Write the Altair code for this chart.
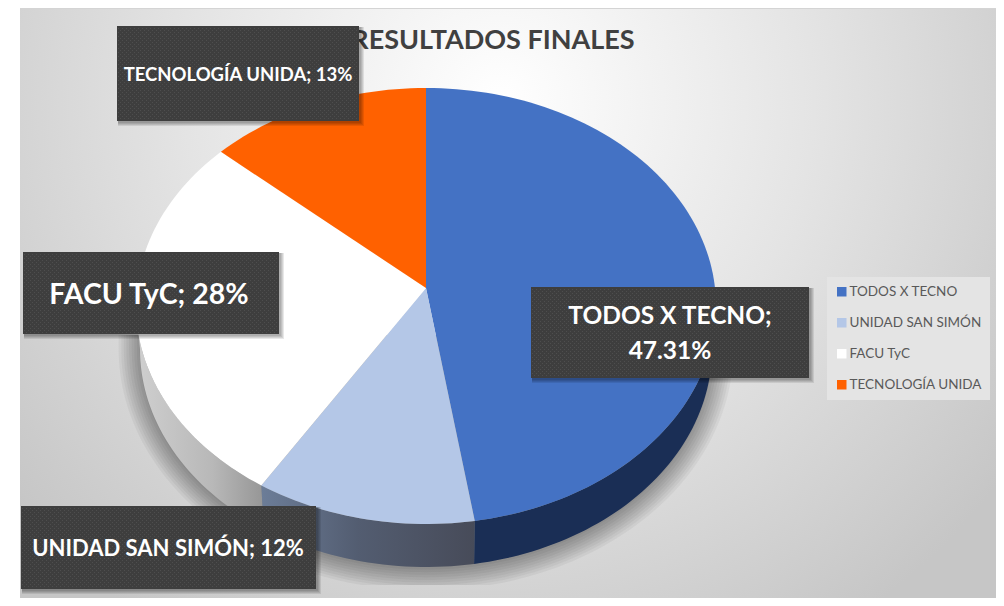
import math
import altair as alt
import pandas as pd

categories = ["TODOS X TECNO", "UNIDAD SAN SIMÓN", "FACU TyC", "TECNOLOGÍA UNIDA"]
values = [47.31, 12.3, 27.89, 12.5]
colors = ["#4472C4", "#B4C7E7", "#FFFFFF", "#FF6100"]
labels = ["TODOS X TECNO;\n47.31%", "UNIDAD SAN SIMÓN; 12%", "FACU TyC; 28%", "TECNOLOGÍA UNIDA; 13%"]
title_text = "RESULTADOS FINALES"

W, H = 988, 590
OX, OY = 8, 8  # page margin
PX, PY = 426, 288  # pie pivot
CX, CY, RX, RY = 426, 306, 290, 218
DEPTH = 43
FONT = "Lato"

total = sum(values)
cuts = [0]
for v in values:
    cuts.append(cuts[-1] + v / total * 360)


def pt(t, cy=CY, rx=RX, ry=RY):
    a = math.radians(t)
    return [CX + rx * math.sin(a) - OX, cy - ry * math.cos(a) - OY]


def arc(t0, t1, **kw):
    n = max(2, int(abs(t1 - t0) / 1.5))
    return [pt(t0 + (t1 - t0) * i / n, **kw) for i in range(n + 1)]


def feature(ring, name=""):
    ring = ring + [ring[0]]
    return {"type": "Feature", "properties": {"name": name},
            "geometry": {"type": "Polygon", "coordinates": [ring]}}


def geo(features, **mark):
    return alt.Chart(alt.Data(values=features)).mark_geoshape(stroke=None, **mark).project(
        type="identity", scale=1, translate=[0, 0])


def rect(x0, y0, x1, y1, **mark):
    return alt.Chart(pd.DataFrame({"a": [0]})).mark_rect(**mark).encode(
        x=alt.value(x0 - OX), x2=alt.value(x1 - OX), y=alt.value(y0 - OY), y2=alt.value(y1 - OY))


def text(s, x, y, size, color="#FFFFFF", **mark):
    return alt.Chart(pd.DataFrame({"label": [s]})).mark_text(
        font=FONT, fontWeight="bold", fontSize=size, color=color, align="center",
        baseline="middle", lineBreak="\n", **mark).encode(
        x=alt.value(x - OX), y=alt.value(y - OY), text="label:N")


# background
bg = rect(20, -100, 1002, 882, clip=True, fill=alt.RadialGradient(
    gradient="radial", x1=0.489, y1=0.204, x2=0.489, y2=0.204, r1=0, r2=0.64,
    stops=[alt.GradientStop(offset=0, color="#FFFFFF"),
           alt.GradientStop(offset=0.5, color="#E4E4E4"),
           alt.GradientStop(offset=1, color="#C6C6C6")]))
top_line = rect(20, 8, 1002, 9, fill="#D4D4D4")

# soft shadow under the pie
shadow_layers = []
for i in range(10):
    rx = 284 + i * 2.6
    ry = 218 + i * 2.6
    pts = arc(90, 270, cy=CY + DEPTH, rx=rx, ry=ry)
    ring = [[x, min(y, 585 - OY)] for x, y in pts]
    ring = [[CX + rx - OX, 335 - OY]] + ring + [[CX - rx - OX, 335 - OY]]
    shadow_layers.append(geo([feature(ring)], fill="#000000", fillOpacity=0.042))


# pie walls
def wall(t0, t1):
    return feature(arc(t0, t1) + arc(t1, t0, cy=CY + DEPTH, rx=286))


wall_blue = geo([wall(90, cuts[1])], fill="#1A2E55")
wall_light = geo([wall(cuts[1], cuts[2])], fill=alt.LinearGradient(
    gradient="linear", x1=0, y1=0, x2=1, y2=0,
    stops=[alt.GradientStop(offset=0, color="#6C7D98"),
           alt.GradientStop(offset=0.45, color="#535D71"),
           alt.GradientStop(offset=1, color="#474B59")]))
wall_white = geo([wall(cuts[2], 270)], fill=alt.LinearGradient(
    gradient="linear", x1=0, y1=0, x2=1, y2=0,
    stops=[alt.GradientStop(offset=0, color="#CFCFCF"),
           alt.GradientStop(offset=0.6, color="#B8B8B8"),
           alt.GradientStop(offset=1, color="#969696")]))

# pie faces (drawn through the colour scale, which also gives the legend)
faces = []
for i, name in enumerate(categories):
    faces.append(feature([[PX - OX, PY - OY]] + arc(cuts[i], cuts[i + 1]), name))

pie = geo(faces).encode(
    color=alt.Color("properties.name:N",
                    scale=alt.Scale(domain=categories, range=colors),
                    legend=alt.Legend(
                        title=None, orient="none", legendX=827 - OX, legendY=277 - OY,
                        fillColor="#E4E4E4", padding=8, symbolType="square", symbolSize=90,
                        symbolStrokeWidth=0, symbolOffset=0, labelFont=FONT, labelFontSize=13.5,
                        labelColor="#595959", rowPadding=16, labelOffset=1)))

title = text(title_text, 493, 41, 27, color="#404040")

# data label boxes
boxes = [
    (labels[3], 117, 26, 359, 121, 238, 75, 18.5),
    (labels[2], 23, 252, 279, 334, 149, 295, 28.5),
    (labels[0], 531, 287, 809, 378, 670, 317, 24.5),
    (labels[1], 21, 506, 316, 589, 168, 549, 22),
]
box_layers = []
for lab, x0, y0, x1, y1, tx, ty, size in boxes:
    for k in (5, 4, 3, 2):
        box_layers.append(rect(x0 + 1, y0 + 1, x1 + k, y1 + k, fill="#000000", fillOpacity=0.09))
    box_layers.append(rect(x0, y0, x1, y1, fill="#3E3E3E"))
    for off in (0, 2):
        rows = pd.DataFrame({"row": [y - OY + 0.5 for y in range(y0 + 2 + off, y1 - 1, 4)]})
        box_layers.append(alt.Chart(rows).mark_rule(
            color="#4E4E4E", strokeWidth=1, strokeDash=[1, 3], strokeDashOffset=off).encode(
            x=alt.value(x0 + 1 - OX), x2=alt.value(x1 - 1 - OX),
            y=alt.Y("row:Q", axis=None, scale=alt.Scale(domain=[0, H], range=[0, H]))))
    box_layers.append(text(lab, tx, ty, size, lineHeight=35))

chart = alt.layer(
    bg, top_line, *shadow_layers, wall_white, wall_light, wall_blue, pie, title, *box_layers
).properties(
    width=W, height=H, padding=0, autosize=alt.AutoSizeParams(type="none"), background="#FFFFFF"
).configure_view(stroke=None)

chart.save("out.html", embed_options={"renderer": "svg", "actions": False})
